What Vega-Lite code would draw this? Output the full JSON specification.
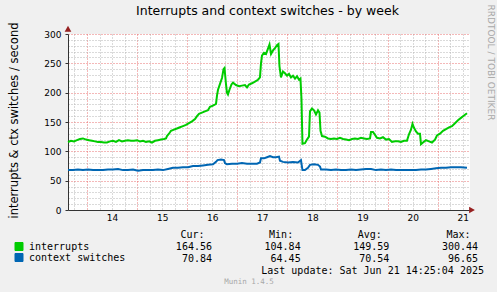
{
"$schema": "https://vega.github.io/schema/vega-lite/v6.json",
"background": "#f0f0f0",
"autosize": {"type": "pad"},
"padding": {"left": 7, "top": 4, "right": 4, "bottom": 9},
"bounds": "flush",
"spacing": 36.6,
"title": {"text": "RRDTOOL / TOBI OETIKER", "orient": "right", "anchor": "start", "frame": "bounds", "font": "DejaVu Sans", "fontSize": 9, "fontWeight": "normal", "color": "#a8a8a8", "offset": 2},
"config": {"font": "DejaVu Sans", "view": {"stroke": null}},
"resolve": {"legend": {"color": "independent"}},
"datasets": {
"series": [
{"t":13.621,"v":116,"series":"interrupts"},{"t":13.681,"v":118,"series":"interrupts"},{"t":13.741,"v":117,"series":"interrupts"},{"t":13.800,"v":119,"series":"interrupts"},{"t":13.860,"v":121,"series":"interrupts"},{"t":13.920,"v":122,"series":"interrupts"},{"t":13.980,"v":120,"series":"interrupts"},{"t":14.040,"v":119,"series":"interrupts"},{"t":14.100,"v":118,"series":"interrupts"},{"t":14.160,"v":117,"series":"interrupts"},{"t":14.220,"v":116,"series":"interrupts"},{"t":14.279,"v":116,"series":"interrupts"},{"t":14.339,"v":115,"series":"interrupts"},{"t":14.399,"v":115,"series":"interrupts"},{"t":14.459,"v":117,"series":"interrupts"},{"t":14.519,"v":118,"series":"interrupts"},{"t":14.579,"v":116,"series":"interrupts"},{"t":14.639,"v":119,"series":"interrupts"},{"t":14.699,"v":117,"series":"interrupts"},{"t":14.758,"v":118,"series":"interrupts"},{"t":14.818,"v":119,"series":"interrupts"},{"t":14.878,"v":118,"series":"interrupts"},{"t":14.938,"v":118,"series":"interrupts"},{"t":14.998,"v":119,"series":"interrupts"},{"t":15.058,"v":117,"series":"interrupts"},{"t":15.118,"v":118,"series":"interrupts"},{"t":15.178,"v":116,"series":"interrupts"},{"t":15.238,"v":117,"series":"interrupts"},{"t":15.297,"v":115,"series":"interrupts"},{"t":15.357,"v":118,"series":"interrupts"},{"t":15.417,"v":119,"series":"interrupts"},{"t":15.477,"v":120,"series":"interrupts"},{"t":15.537,"v":121,"series":"interrupts"},{"t":15.577,"v":122,"series":"interrupts"},{"t":15.597,"v":126,"series":"interrupts"},{"t":15.637,"v":130,"series":"interrupts"},{"t":15.677,"v":135,"series":"interrupts"},{"t":15.737,"v":137,"series":"interrupts"},{"t":15.796,"v":139,"series":"interrupts"},{"t":15.856,"v":141,"series":"interrupts"},{"t":15.916,"v":143,"series":"interrupts"},{"t":15.976,"v":145,"series":"interrupts"},{"t":16.036,"v":148,"series":"interrupts"},{"t":16.096,"v":151,"series":"interrupts"},{"t":16.156,"v":155,"series":"interrupts"},{"t":16.196,"v":160,"series":"interrupts"},{"t":16.236,"v":164,"series":"interrupts"},{"t":16.295,"v":166,"series":"interrupts"},{"t":16.355,"v":168,"series":"interrupts"},{"t":16.415,"v":170,"series":"interrupts"},{"t":16.455,"v":176,"series":"interrupts"},{"t":16.515,"v":178,"series":"interrupts"},{"t":16.575,"v":181,"series":"interrupts"},{"t":16.595,"v":195,"series":"interrupts"},{"t":16.615,"v":205,"series":"interrupts"},{"t":16.655,"v":215,"series":"interrupts"},{"t":16.695,"v":225,"series":"interrupts"},{"t":16.725,"v":240,"series":"interrupts"},{"t":16.745,"v":242,"series":"interrupts"},{"t":16.774,"v":215,"series":"interrupts"},{"t":16.794,"v":200,"series":"interrupts"},{"t":16.814,"v":197,"series":"interrupts"},{"t":16.844,"v":205,"series":"interrupts"},{"t":16.884,"v":214,"series":"interrupts"},{"t":16.914,"v":217,"series":"interrupts"},{"t":16.974,"v":213,"series":"interrupts"},{"t":17.034,"v":211,"series":"interrupts"},{"t":17.094,"v":212,"series":"interrupts"},{"t":17.154,"v":213,"series":"interrupts"},{"t":17.194,"v":209,"series":"interrupts"},{"t":17.234,"v":214,"series":"interrupts"},{"t":17.293,"v":216,"series":"interrupts"},{"t":17.353,"v":219,"series":"interrupts"},{"t":17.413,"v":222,"series":"interrupts"},{"t":17.453,"v":226,"series":"interrupts"},{"t":17.473,"v":250,"series":"interrupts"},{"t":17.493,"v":263,"series":"interrupts"},{"t":17.533,"v":268,"series":"interrupts"},{"t":17.573,"v":266,"series":"interrupts"},{"t":17.613,"v":275,"series":"interrupts"},{"t":17.643,"v":282,"series":"interrupts"},{"t":17.673,"v":266,"series":"interrupts"},{"t":17.713,"v":272,"series":"interrupts"},{"t":17.752,"v":276,"series":"interrupts"},{"t":17.792,"v":281,"series":"interrupts"},{"t":17.822,"v":283,"series":"interrupts"},{"t":17.842,"v":245,"series":"interrupts"},{"t":17.872,"v":226,"series":"interrupts"},{"t":17.912,"v":236,"series":"interrupts"},{"t":17.952,"v":233,"series":"interrupts"},{"t":17.992,"v":229,"series":"interrupts"},{"t":18.032,"v":232,"series":"interrupts"},{"t":18.072,"v":226,"series":"interrupts"},{"t":18.112,"v":229,"series":"interrupts"},{"t":18.152,"v":224,"series":"interrupts"},{"t":18.192,"v":228,"series":"interrupts"},{"t":18.232,"v":222,"series":"interrupts"},{"t":18.261,"v":224,"series":"interrupts"},{"t":18.281,"v":190,"series":"interrupts"},{"t":18.301,"v":113,"series":"interrupts"},{"t":18.351,"v":114,"series":"interrupts"},{"t":18.391,"v":120,"series":"interrupts"},{"t":18.431,"v":125,"series":"interrupts"},{"t":18.451,"v":168,"series":"interrupts"},{"t":18.491,"v":173,"series":"interrupts"},{"t":18.531,"v":170,"series":"interrupts"},{"t":18.571,"v":163,"series":"interrupts"},{"t":18.611,"v":170,"series":"interrupts"},{"t":18.641,"v":166,"series":"interrupts"},{"t":18.661,"v":135,"series":"interrupts"},{"t":18.691,"v":126,"series":"interrupts"},{"t":18.750,"v":125,"series":"interrupts"},{"t":18.810,"v":122,"series":"interrupts"},{"t":18.870,"v":121,"series":"interrupts"},{"t":18.930,"v":122,"series":"interrupts"},{"t":18.990,"v":121,"series":"interrupts"},{"t":19.050,"v":123,"series":"interrupts"},{"t":19.110,"v":121,"series":"interrupts"},{"t":19.170,"v":120,"series":"interrupts"},{"t":19.230,"v":119,"series":"interrupts"},{"t":19.289,"v":121,"series":"interrupts"},{"t":19.349,"v":122,"series":"interrupts"},{"t":19.409,"v":121,"series":"interrupts"},{"t":19.469,"v":123,"series":"interrupts"},{"t":19.529,"v":122,"series":"interrupts"},{"t":19.589,"v":121,"series":"interrupts"},{"t":19.649,"v":122,"series":"interrupts"},{"t":19.669,"v":133,"series":"interrupts"},{"t":19.709,"v":133,"series":"interrupts"},{"t":19.749,"v":128,"series":"interrupts"},{"t":19.788,"v":123,"series":"interrupts"},{"t":19.848,"v":122,"series":"interrupts"},{"t":19.908,"v":124,"series":"interrupts"},{"t":19.968,"v":120,"series":"interrupts"},{"t":20.028,"v":121,"series":"interrupts"},{"t":20.088,"v":116,"series":"interrupts"},{"t":20.148,"v":117,"series":"interrupts"},{"t":20.208,"v":117,"series":"interrupts"},{"t":20.267,"v":116,"series":"interrupts"},{"t":20.327,"v":118,"series":"interrupts"},{"t":20.387,"v":118,"series":"interrupts"},{"t":20.427,"v":129,"series":"interrupts"},{"t":20.467,"v":137,"series":"interrupts"},{"t":20.497,"v":147,"series":"interrupts"},{"t":20.527,"v":140,"series":"interrupts"},{"t":20.567,"v":134,"series":"interrupts"},{"t":20.607,"v":130,"series":"interrupts"},{"t":20.647,"v":130,"series":"interrupts"},{"t":20.667,"v":112,"series":"interrupts"},{"t":20.707,"v":115,"series":"interrupts"},{"t":20.766,"v":119,"series":"interrupts"},{"t":20.826,"v":117,"series":"interrupts"},{"t":20.886,"v":115,"series":"interrupts"},{"t":20.946,"v":120,"series":"interrupts"},{"t":20.986,"v":127,"series":"interrupts"},{"t":21.046,"v":130,"series":"interrupts"},{"t":21.106,"v":135,"series":"interrupts"},{"t":21.166,"v":138,"series":"interrupts"},{"t":21.226,"v":141,"series":"interrupts"},{"t":21.285,"v":143,"series":"interrupts"},{"t":21.345,"v":148,"series":"interrupts"},{"t":21.405,"v":153,"series":"interrupts"},{"t":21.465,"v":157,"series":"interrupts"},{"t":21.525,"v":161,"series":"interrupts"},{"t":21.585,"v":165,"series":"interrupts"},
{"t":13.621,"v":68,"series":"context switches"},{"t":13.721,"v":68,"series":"context switches"},{"t":13.820,"v":69,"series":"context switches"},{"t":13.920,"v":68,"series":"context switches"},{"t":14.020,"v":69,"series":"context switches"},{"t":14.120,"v":68,"series":"context switches"},{"t":14.220,"v":68,"series":"context switches"},{"t":14.319,"v":68,"series":"context switches"},{"t":14.419,"v":69,"series":"context switches"},{"t":14.519,"v":69,"series":"context switches"},{"t":14.619,"v":70,"series":"context switches"},{"t":14.719,"v":68,"series":"context switches"},{"t":14.818,"v":68,"series":"context switches"},{"t":14.918,"v":69,"series":"context switches"},{"t":15.018,"v":67,"series":"context switches"},{"t":15.118,"v":68,"series":"context switches"},{"t":15.218,"v":68,"series":"context switches"},{"t":15.317,"v":68,"series":"context switches"},{"t":15.417,"v":69,"series":"context switches"},{"t":15.517,"v":68,"series":"context switches"},{"t":15.617,"v":70,"series":"context switches"},{"t":15.717,"v":72,"series":"context switches"},{"t":15.816,"v":72,"series":"context switches"},{"t":15.916,"v":73,"series":"context switches"},{"t":16.016,"v":73,"series":"context switches"},{"t":16.116,"v":75,"series":"context switches"},{"t":16.216,"v":75,"series":"context switches"},{"t":16.315,"v":76,"series":"context switches"},{"t":16.415,"v":77,"series":"context switches"},{"t":16.515,"v":78,"series":"context switches"},{"t":16.575,"v":82,"series":"context switches"},{"t":16.605,"v":85,"series":"context switches"},{"t":16.675,"v":86,"series":"context switches"},{"t":16.735,"v":85,"series":"context switches"},{"t":16.754,"v":80,"series":"context switches"},{"t":16.794,"v":78,"series":"context switches"},{"t":16.894,"v":79,"series":"context switches"},{"t":16.994,"v":79,"series":"context switches"},{"t":17.094,"v":80,"series":"context switches"},{"t":17.194,"v":79,"series":"context switches"},{"t":17.293,"v":79,"series":"context switches"},{"t":17.393,"v":79,"series":"context switches"},{"t":17.453,"v":81,"series":"context switches"},{"t":17.473,"v":88,"series":"context switches"},{"t":17.533,"v":88,"series":"context switches"},{"t":17.593,"v":90,"series":"context switches"},{"t":17.653,"v":92,"series":"context switches"},{"t":17.713,"v":90,"series":"context switches"},{"t":17.772,"v":90,"series":"context switches"},{"t":17.832,"v":91,"series":"context switches"},{"t":17.852,"v":84,"series":"context switches"},{"t":17.912,"v":82,"series":"context switches"},{"t":18.012,"v":81,"series":"context switches"},{"t":18.112,"v":82,"series":"context switches"},{"t":18.212,"v":81,"series":"context switches"},{"t":18.271,"v":85,"series":"context switches"},{"t":18.301,"v":68,"series":"context switches"},{"t":18.351,"v":68,"series":"context switches"},{"t":18.411,"v":72,"series":"context switches"},{"t":18.451,"v":77,"series":"context switches"},{"t":18.531,"v":78,"series":"context switches"},{"t":18.611,"v":77,"series":"context switches"},{"t":18.651,"v":74,"series":"context switches"},{"t":18.671,"v":69,"series":"context switches"},{"t":18.770,"v":69,"series":"context switches"},{"t":18.870,"v":68,"series":"context switches"},{"t":18.970,"v":69,"series":"context switches"},{"t":19.070,"v":68,"series":"context switches"},{"t":19.170,"v":68,"series":"context switches"},{"t":19.269,"v":69,"series":"context switches"},{"t":19.369,"v":68,"series":"context switches"},{"t":19.469,"v":69,"series":"context switches"},{"t":19.569,"v":70,"series":"context switches"},{"t":19.669,"v":70,"series":"context switches"},{"t":19.768,"v":68,"series":"context switches"},{"t":19.868,"v":69,"series":"context switches"},{"t":19.968,"v":68,"series":"context switches"},{"t":20.068,"v":69,"series":"context switches"},{"t":20.168,"v":68,"series":"context switches"},{"t":20.267,"v":68,"series":"context switches"},{"t":20.367,"v":68,"series":"context switches"},{"t":20.467,"v":68,"series":"context switches"},{"t":20.567,"v":68,"series":"context switches"},{"t":20.667,"v":69,"series":"context switches"},{"t":20.766,"v":69,"series":"context switches"},{"t":20.866,"v":70,"series":"context switches"},{"t":20.966,"v":71,"series":"context switches"},{"t":21.066,"v":72,"series":"context switches"},{"t":21.166,"v":72,"series":"context switches"},{"t":21.265,"v":73,"series":"context switches"},{"t":21.365,"v":73,"series":"context switches"},{"t":21.465,"v":73,"series":"context switches"},{"t":21.585,"v":72,"series":"context switches"}
],
"stats": [
{"series":"interrupts","stat":"Cur:","value":164.56},{"series":"interrupts","stat":"Min:","value":104.84},{"series":"interrupts","stat":"Avg:","value":149.59},{"series":"interrupts","stat":"Max:","value":300.44},
{"series":"context switches","stat":"Cur:","value":70.84},{"series":"context switches","stat":"Min:","value":64.45},{"series":"context switches","stat":"Avg:","value":70.54},{"series":"context switches","stat":"Max:","value":96.65}
]
},
"vconcat": [
{
"width": 402,
"height": 176,
"view": {"fill": "#ffffff", "stroke": null},
"title": {"text": "Interrupts and context switches - by week", "anchor": "middle", "frame": "group", "font": "DejaVu Sans", "fontSize": 12.5, "fontWeight": "normal", "color": "#000000", "offset": 5, "dx": -1.5},
"layer": [
{
"data": {"name": "series"},
"mark": {"type": "line", "strokeWidth": 2, "interpolate": "linear"},
"encoding": {
"x": {"field": "t", "type": "quantitative", "scale": {"domain": [13.621, 21.645], "nice": false, "zero": false},
"axis": {"orient": "bottom", "title": null, "labels": false, "ticks": false, "domain": false, "grid": true, "gridColor": "#b4b4b4", "gridDash": [1, 2], "gridWidth": 1,
"values": [13.75,14.25,14.5,14.75,15.25,15.5,15.75,16.25,16.5,16.75,17.25,17.5,17.75,18.25,18.5,18.75,19.25,19.5,19.75,20.25,20.5,20.75,21.25,21.5]}},
"y": {"field": "v", "type": "quantitative", "scale": {"domain": [0, 300], "nice": false, "zero": true},
"axis": {"orient": "left", "title": null, "labels": false, "ticks": false, "domain": false, "grid": true, "gridColor": "#b4b4b4", "gridDash": [1, 2], "gridWidth": 1,
"values": [10,20,30,40,60,70,80,90,110,120,130,140,160,170,180,190,210,220,230,240,260,270,280,290]}},
"color": {"field": "series", "type": "nominal",
"scale": {"domain": ["interrupts", "context switches"], "range": ["#00cc00", "#0066b3"]},
"legend": {"orient": "none", "legendX": -54, "legendY": 207.5, "title": null, "direction": "vertical", "symbolType": "square", "symbolSize": 64, "symbolStrokeWidth": 1, "labelFont": "DejaVu Sans Mono", "labelFontSize": 10, "labelColor": "#000000", "labelOffset": 5, "rowPadding": -1, "padding": 0,
"encode": {"symbols": {"update": {"fill": {"scale": "color", "field": "value"}, "stroke": {"value": "#000000"}, "opacity": {"value": 1}}}}}}
}
},
{
"data": {"values": [{}]},
"mark": {"type": "point", "shape": "triangle-up", "filled": true, "color": "#962020", "opacity": 1, "size": 45},
"encoding": {
"x": {"datum": 13.621, "type": "quantitative", "scale": {"domain": [13.621, 21.645], "nice": false, "zero": false},
"axis": {"orient": "bottom", "title": null, "labels": false, "ticks": false, "domain": false, "grid": true, "gridColor": "#e87070", "gridDash": [1, 2], "gridWidth": 1, "values": [14,15,16,17,18,19,20,21]}},
"y": {"datum": 309, "type": "quantitative", "scale": {"domain": [0, 300], "nice": false, "zero": true},
"axis": {"orient": "left", "title": null, "labels": false, "ticks": false, "domain": false, "grid": true, "gridColor": "#e87070", "gridDash": [1, 2], "gridWidth": 1, "values": [50,100,150,200,250,300]}}
}
},
{
"data": {"values": [{}]},
"mark": {"type": "point", "shape": "triangle-right", "filled": true, "color": "#962020", "opacity": 1, "size": 45},
"encoding": {
"x": {"datum": 21.685, "type": "quantitative", "scale": {"domain": [13.621, 21.645], "nice": false, "zero": false},
"axis": {"orient": "bottom", "title": null, "grid": false, "ticks": false, "domain": true, "domainColor": "#333333", "domainWidth": 1, "labelFont": "DejaVu Sans", "labelFontSize": 9, "labelColor": "#000000", "labelPadding": 3, "labelAngle": 0, "labelFlush": false, "labelOverlap": false,
"values": [14.5,15.5,16.5,17.5,18.5,19.5,20.5,21.5], "labelExpr": "floor(datum.value)"}},
"y": {"datum": 0, "type": "quantitative", "scale": {"domain": [0, 300], "nice": false, "zero": true},
"axis": {"orient": "left", "grid": false, "ticks": true, "tickSize": 3, "tickColor": "#333333", "domain": true, "domainColor": "#333333", "domainWidth": 1, "labelFont": "DejaVu Sans", "labelFontSize": 9, "labelColor": "#000000", "labelPadding": 4, "labelFlush": false, "labelOverlap": false,
"values": [0,50,100,150,200,250,300],
"title": "interrupts & ctx switches / second", "titleFont": "DejaVu Sans", "titleFontSize": 11.5, "titleFontWeight": "normal", "titleColor": "#000000", "titleAngle": 270, "titleX": -54, "titleY": 86, "titleAlign": "center", "titleBaseline": "middle"}}
}
}
],
"resolve": {"axis": {"x": "independent", "y": "independent"}}
},
{
"width": 410,
"height": 24,
"view": {"stroke": null},
"title": {"text": "Munin 1.4.5", "orient": "bottom", "anchor": "middle", "frame": "group", "font": "DejaVu Sans Mono", "fontSize": 7.5, "fontWeight": "normal", "color": "#a8a8a8", "offset": 2, "dx": -24},
"layer": [
{
"data": {"name": "stats"},
"mark": {"type": "text", "align": "right", "baseline": "middle", "font": "DejaVu Sans Mono", "fontSize": 10, "color": "#000000"},
"encoding": {
"x": {"field": "stat", "type": "nominal", "scale": {"type": "point", "domain": ["Cur:", "Min:", "Avg:", "Max:"], "padding": 0.812, "align": 1},
"axis": {"orient": "top", "title": null, "domain": false, "ticks": false, "grid": false, "labelAngle": 0, "labelAlign": "right", "labelOffset": -8, "labelBaseline": "middle", "labelPadding": 12, "labelFont": "DejaVu Sans Mono", "labelFontSize": 10, "labelColor": "#000000"}},
"y": {"field": "series", "type": "nominal", "scale": {"type": "point", "domain": ["interrupts", "context switches", "update"], "padding": 0}, "axis": null},
"text": {"field": "value", "type": "quantitative", "format": ".2f"}
}
},
{
"data": {"values": [{"series": "update", "stat": "Max:", "label": "Last update: Sat Jun 21 14:25:04 2025"}]},
"mark": {"type": "text", "align": "right", "baseline": "middle", "font": "DejaVu Sans Mono", "fontSize": 10, "color": "#000000", "dx": 6},
"encoding": {
"x": {"field": "stat", "type": "nominal"},
"y": {"field": "series", "type": "nominal"},
"text": {"field": "label", "type": "nominal"}
}
}
]
}
]
}
